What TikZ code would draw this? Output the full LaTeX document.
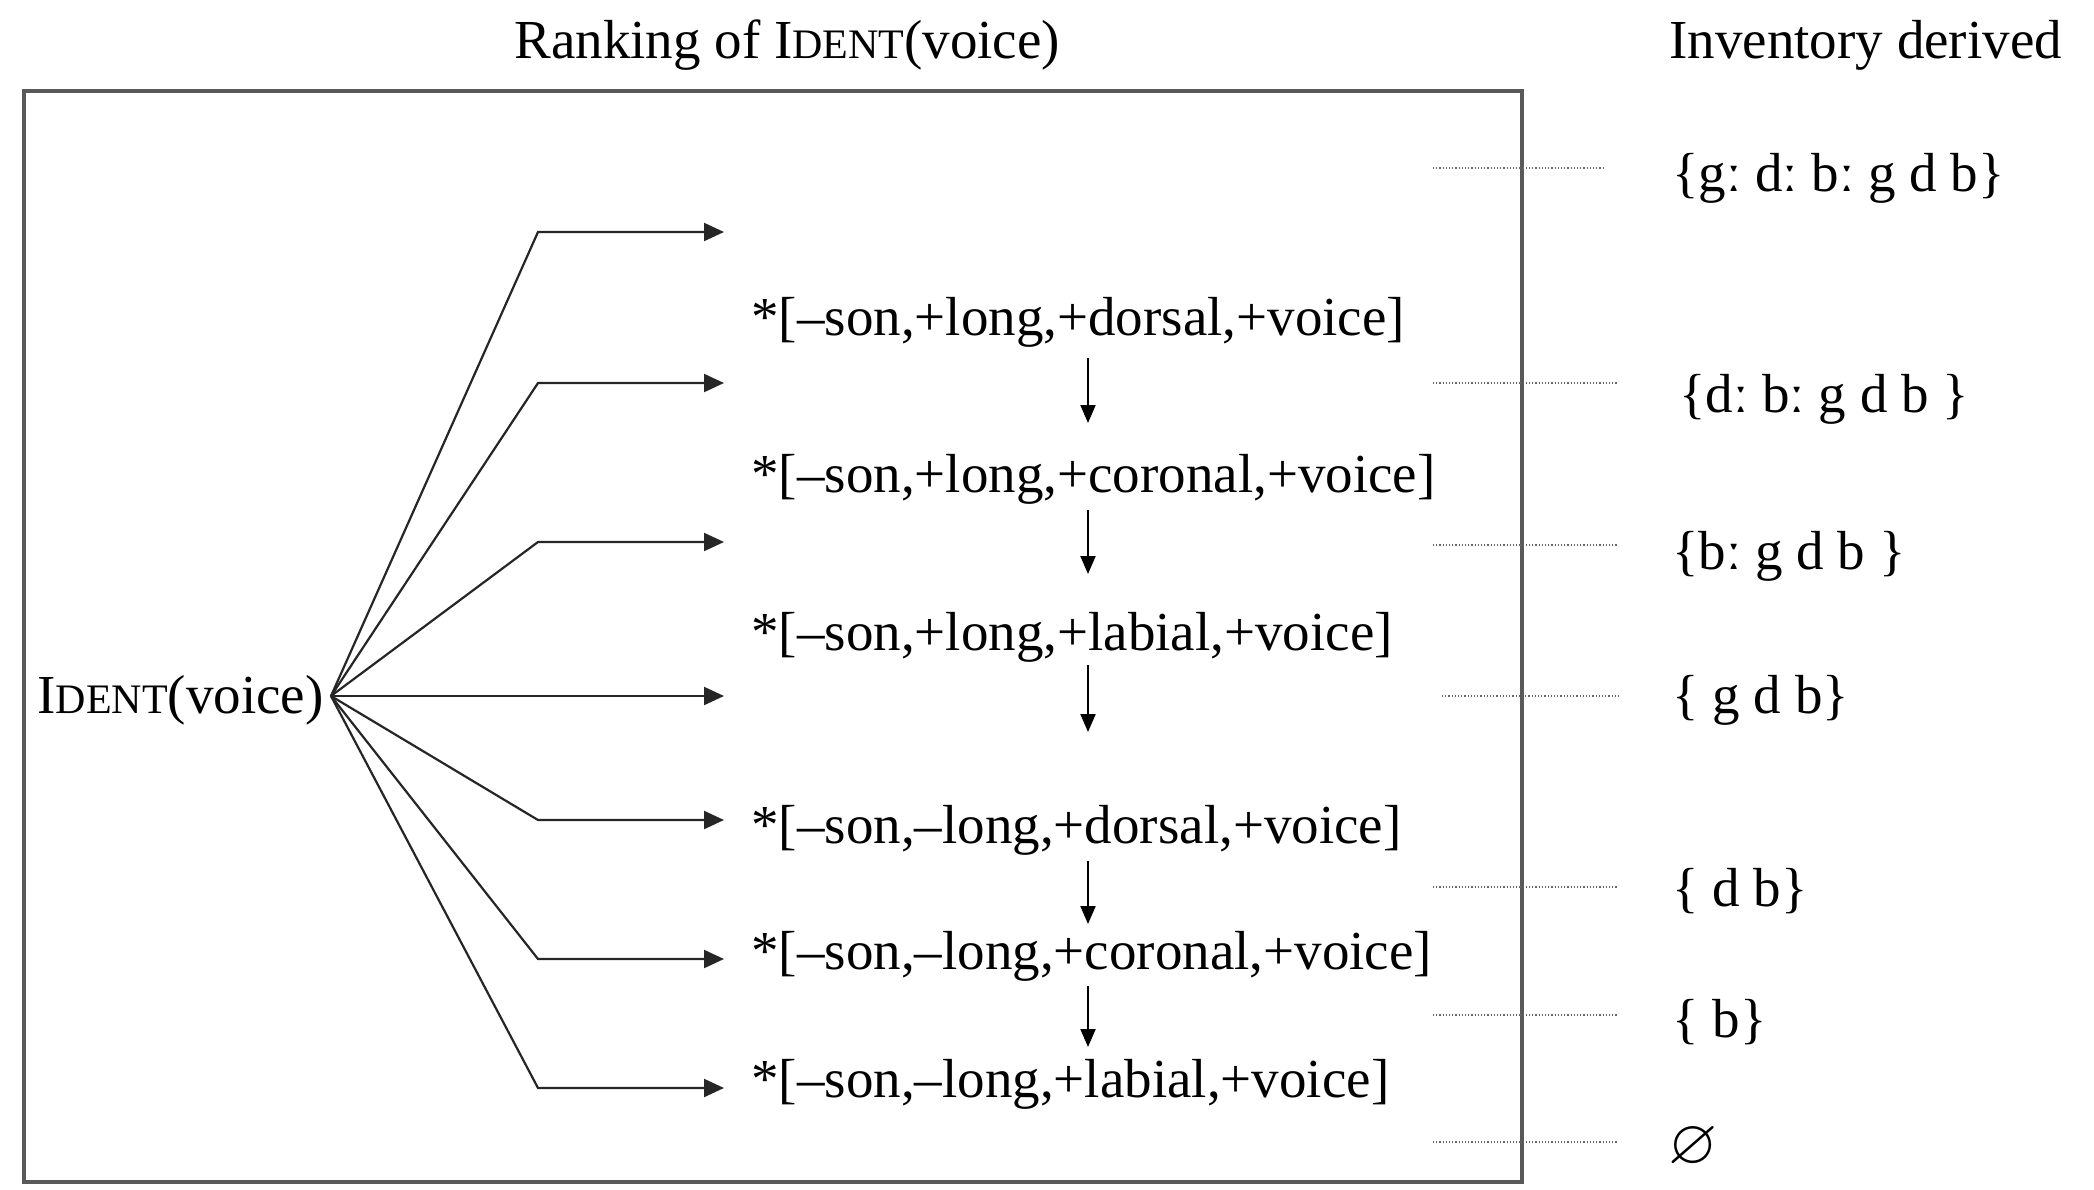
\documentclass[tikz,border=0pt]{standalone}
\usepackage{fontspec}
\usepackage{amssymb}
\setmainfont{Liberation Serif}
\usetikzlibrary{arrows.meta}
\newcommand\IdentSC{I{\fontsize{21}{21}\selectfont DENT}}
\begin{document}
\begin{tikzpicture}[x=0.5pt,y=-0.5pt,
  txt/.style={font=\fontsize{27.5}{33}\selectfont, inner sep=0pt, anchor=west},
  fan/.style={draw=black!85, line width=1.1pt, -{Triangle[length=10pt,width=9pt]}},
  varr/.style={draw=black, line width=1pt, -{Triangle[length=9pt,width=7.5pt]}},
  dotline/.style={draw=black!60, line width=1.4pt, dash pattern=on 0.6pt off 1pt},
  frame/.style={draw=black!65, line width=1.6pt}]
\useasboundingbox (0,0) rectangle (2094,1189);
% titles
\node[txt] (title) at (514,45) {Ranking of \IdentSC(voice)};
\node[txt] (invtitle) at (1669,45) {Inventory derived};
% frame
\draw[frame] (24,91) rectangle (1522,1182);
% left node
\node[txt] (ident) at (37,700) {\IdentSC(voice)};
% constraints
\node[txt] (c1) at (751,322) {*[–son,+long,+dorsal,+voice]};
\node[txt] (c2) at (751,479) {*[–son,+long,+coronal,+voice]};
\node[txt] (c3) at (751,637) {*[–son,+long,+labial,+voice]};
\node[txt] (c4) at (751,830) {*[–son,–long,+dorsal,+voice]};
\node[txt] (c5) at (751,956) {*[–son,–long,+coronal,+voice]};
\node[txt] (c6) at (751,1084) {*[–son,–long,+labial,+voice]};
% fan
\foreach \i/\y in {1/232,2/383,3/542,4/696,5/820,6/959,7/1088}{
  \coordinate (b\i) at (538,\y);
  \coordinate (e\i) at (724,\y);
}
\coordinate (o) at (331,696);
\draw[fan] (o) -- (b1) -- (e1);
\draw[fan] (o) -- (b2) -- (e2);
\draw[fan] (o) -- (b3) -- (e3);
\draw[fan] (o) -- (e4);
\draw[fan] (o) -- (b5) -- (e5);
\draw[fan] (o) -- (b6) -- (e6);
\draw[fan] (o) -- (b7) -- (e7);
% vertical ranking arrows
\coordinate (ax) at (1088,0);
\draw[varr, shorten <=18pt, shorten >=28pt] (c1.center -| ax) -- (c2.center -| ax);
\draw[varr, shorten <=15.5pt, shorten >=31.5pt] (c2.center -| ax) -- (c3.center -| ax);
\draw[varr, shorten <=14pt, shorten >=49pt] (c3.center -| ax) -- (c4.center -| ax);
\draw[varr, shorten <=15.5pt, shorten >=16pt] (c4.center -| ax) -- (c5.center -| ax);
\draw[varr, shorten <=15pt, shorten >=18.5pt] (c5.center -| ax) -- (c6.center -| ax);
% inventories
\node[txt] (i1) at (1672,178) {\{gː dː bː g d b\}};
\node[txt] (i2) at (1679,399) {\{dː bː g d b \}};
\node[txt] (i3) at (1672,556) {\{bː g d b \}};
\node[txt] (i4) at (1672,700) {\{ g d b\}};
\node[txt] (i5) at (1672,891) {\{ d b\}};
\node[txt] (i6) at (1672,1022) {\{ b\}};
\node[txt] (i7) at (1668,1148) {\scalebox{1.15}{$\varnothing$}};
% dotted lines
\foreach \i/\xa/\xb/\y in {1/1433/1603/168,2/1433/1618/383,3/1433/1618/545,4/1442/1620/696,5/1433/1618/887,6/1433/1618/1015,7/1433/1618/1142}{
  \coordinate (ds\i) at (\xa,\y);
  \coordinate (de\i) at (\xb,\y);
  \draw[dotline] (ds\i) -- (de\i);
}
\end{tikzpicture}
\end{document}
